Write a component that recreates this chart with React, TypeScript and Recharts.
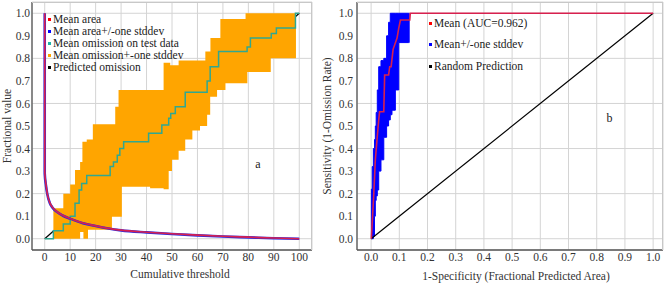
import React from 'react';
import { ComposedChart, Line, Area, XAxis, YAxis, CartesianGrid, ReferenceDot } from 'recharts';

const FONT = "'Liberation Serif', 'Times New Roman', Times, serif";

// ---- tick labels ----
const thresholdTicks = [0, 10, 20, 30, 40, 50, 60, 70, 80, 90, 100];
const fractionTicks = [0, 0.1, 0.2, 0.3, 0.4, 0.5, 0.6, 0.7, 0.8, 0.9, 1.0];
const specificityTicks = [0, 0.1, 0.2, 0.3, 0.4, 0.5, 0.6, 0.7, 0.8, 0.9, 1.0];

// ---- panel a: mean area ----
const meanAreaThreshold = [0, 0, 0.5, 1, 2, 3, 5, 7, 10, 15, 20, 25, 30, 40, 50, 60, 70, 80, 90, 100];
const meanAreaValue = [1.0, 0.3, 0.24, 0.2, 0.16, 0.14, 0.118, 0.104, 0.09, 0.07, 0.057, 0.046, 0.038, 0.029, 0.022, 0.016, 0.011, 0.007, 0.003, 0];
const areaStddevValue = [1.0, 0.29, 0.235, 0.198, 0.158, 0.139, 0.117, 0.103, 0.089, 0.069, 0.056, 0.045, 0.037, 0.028, 0.021, 0.015, 0.01, 0.006, 0.002, 0];

// ---- panel a: omission band (mean +- one stddev) ----
const bandThreshold = [3.4, 7.3, 10, 11.9, 13.9, 14.8, 15.2, 16.5, 17, 18.9, 26.4, 27.7, 29, 30.3, 41.4, 46.7, 48.7, 49.3, 50, 52.6, 55.2, 58, 61, 63.1, 63.8, 65, 65.1, 67.7, 69, 71, 78.9, 79.6, 88.8, 98.7, 99.2];
const bandLow = [0, 0, 0, 0, 0.03, 0.03, 0, 0, 0.04, 0.04, 0.098, 0.098, 0.098, 0.23, 0.224, 0.22, 0.3, 0.3, 0.35, 0.39, 0.44, 0.48, 0.5, 0.5, 0.55, 0.63, 0.63, 0.66, 0.66, 0.69, 0.69, 0.74, 0.8, 1.0, 1.0];
const bandHigh = [0.135, 0.2, 0.24, 0.305, 0.34, 0.43, 0.43, 0.44, 0.44, 0.508, 0.508, 0.585, 0.66, 0.66, 0.66, 0.78, 0.78, 0.77, 0.77, 0.79, 0.79, 0.79, 0.79, 0.83, 0.83, 0.83, 0.89, 0.89, 0.975, 0.975, 1.0, 1.0, 1.0, 1.0, 1.0];

// ---- panel a: mean omission on test data ----
const testThreshold = [0, 3.4, 7.3, 10, 11.9, 13.5, 14.5, 16.5, 25.7, 27, 28.5, 29.5, 31, 40.8, 46, 48.7, 49.5, 51.3, 55.2, 63.8, 65, 68.3, 79.5, 80.8, 89, 91, 98.5, 100];
const testOmission = [0, 0.035, 0.065, 0.1, 0.157, 0.216, 0.245, 0.28, 0.32, 0.34, 0.37, 0.4, 0.43, 0.468, 0.504, 0.534, 0.556, 0.585, 0.65, 0.7, 0.763, 0.83, 0.85, 0.89, 0.91, 0.935, 1.0, 1.0];

// ---- panel a: predicted omission ----
const predictedThreshold = [0, 100];
const predictedOmission = [0, 1];

// ---- panel b: ROC mean ----
const rocMeanFpr = [0, 0.001, 0.009, 0.015, 0.021, 0.027, 0.03, 0.045, 0.048, 0.062, 0.066, 0.071, 0.078, 0.092, 0.098, 0.104, 0.137, 0.139, 1.0];
const rocMeanTpr = [0, 0.006, 0.186, 0.35, 0.44, 0.527, 0.563, 0.563, 0.726, 0.726, 0.763, 0.763, 0.84, 0.89, 0.934, 0.97, 0.97, 1.0, 1.0];

// ---- panel b: ROC mean +/- one stddev ----
const rocBandFpr = [0, 0.001, 0.004, 0.008, 0.012, 0.015, 0.018, 0.022, 0.027, 0.035, 0.045, 0.055, 0.062, 0.068, 0.074, 0.086, 0.098, 0.133, 0.135];
const rocBandLow = [0, 0, 0, 0.01, 0.1, 0.17, 0.19, 0.216, 0.3, 0.35, 0.45, 0.5, 0.527, 0.55, 0.57, 0.66, 0.87, 0.87, 1.0];
const rocBandHigh = [0, 0.22, 0.32, 0.4, 0.44, 0.5, 0.56, 0.66, 0.763, 0.79, 0.8, 0.9, 0.96, 1.0, 1.0, 1.0, 1.0, 1.0, 1.0];

// ---- panel b: random prediction ----
const randomFpr = [0, 1];
const randomTpr = [0, 1];

const legendA = [
  { label: 'Mean area', color: '#ff0000' },
  { label: 'Mean area+/-one stddev', color: '#0000ff' },
  { label: 'Mean omission on test data', color: '#20b2aa' },
  { label: 'Mean omission+-one stddev', color: '#ffa500' },
  { label: 'Predicted omission', color: '#000000' },
];
const legendB = [
  { label: 'Mean (AUC=0.962)', color: '#ff0000' },
  { label: 'Mean+/-one stddev', color: '#0000ff' },
  { label: 'Random Prediction', color: '#000000' },
];

const zip = (xs: number[], ys: number[]) => xs.map((x, i) => ({ x, y: ys[i] }));
const zipRange = (xs: number[], lo: number[], hi: number[]) => xs.map((x, i) => ({ x, r: [lo[i], hi[i]] }));

const meanAreaData = zip(meanAreaThreshold, meanAreaValue);
const areaStdData = zip(meanAreaThreshold, areaStddevValue);
const bandData = zipRange(bandThreshold, bandLow, bandHigh);
const testData = zip(testThreshold, testOmission);
const predictedData = zip(predictedThreshold, predictedOmission);
const rocMeanData = zip(rocMeanFpr, rocMeanTpr);
const rocBandData = zipRange(rocBandFpr, rocBandLow, rocBandHigh);
const randomData = zip(randomFpr, randomTpr);

const FS = 11.5;
const tickStyle = { fontFamily: FONT, fontSize: FS, fill: '#333' };
const fmt1 = (v: number) => v.toFixed(1);

function Legend({ items, left, top, step }: { items: { label: string; color: string }[]; left: number; top: number; step: number }) {
  return (
    <div style={{ position: 'absolute', left, top, fontFamily: FONT, fontSize: FS, color: '#222' }}>
      {items.map((it, i) => (
        <div key={i} style={{ position: 'absolute', left: 0, top: i * step - 6, height: 12, lineHeight: '12px', whiteSpace: 'nowrap' }}>
          <span style={{ display: 'inline-block', width: 3, height: 3, background: it.color, verticalAlign: 'middle', marginRight: 2, marginLeft: -2 }} />
          <span style={{ verticalAlign: 'middle' }}>{it.label}</span>
        </div>
      ))}
    </div>
  );
}

function Title({ text, cx, cy, vertical }: { text: string; cx: number; cy: number; vertical?: boolean }) {
  return (
    <div
      style={{
        position: 'absolute',
        left: cx,
        top: cy,
        transform: `translate(-50%, -50%)${vertical ? ' rotate(-90deg)' : ''}`,
        whiteSpace: 'nowrap',
        fontFamily: FONT,
        fontSize: FS,
        lineHeight: '12px',
        color: '#333',
      }}
    >
      {text}
    </div>
  );
}

function ChartA() {
  return (
    <ComposedChart width={330} height={285} margin={{ top: 2, right: 18, bottom: 0, left: 0 }}>
      <CartesianGrid stroke="#d4d4d4" strokeWidth={1} />
      <XAxis
        type="number"
        dataKey="x"
        domain={[-5, 105]}
        ticks={thresholdTicks}
        allowDataOverflow
        height={35}
        tickSize={0}
        tickMargin={3}
        tick={tickStyle}
        axisLine={{ stroke: '#555', strokeWidth: 1.3 }}
      />
      <YAxis
        type="number"
        domain={[-0.05, 1.05]}
        ticks={fractionTicks}
        allowDataOverflow
        width={32}
        tickSize={0}
        tickMargin={2}
        tick={tickStyle}
        tickFormatter={fmt1}
        axisLine={{ stroke: '#555', strokeWidth: 1.3 }}
      />
      <Area data={predictedData} dataKey="y" type="linear" fill="none" stroke="#000" strokeWidth={1.2} isAnimationActive={false} />
      <Area data={bandData} dataKey="r" type="stepAfter" fill="#ffa500" fillOpacity={1} stroke="none" isAnimationActive={false} />
      <Line data={testData} dataKey="y" type="stepAfter" stroke="#30a890" strokeWidth={1.5} dot={false} isAnimationActive={false} />
      <Line data={areaStdData} dataKey="y" type="monotone" stroke="#2a2ae0" strokeWidth={2.6} dot={false} isAnimationActive={false} />
      <Line data={meanAreaData} dataKey="y" type="monotone" stroke="#d8204e" strokeWidth={1.6} dot={false} isAnimationActive={false} />
      <ReferenceDot x={83.8} y={0.331} r={0} fill="none" stroke="none" label={{ value: 'a', position: 'center', fontFamily: FONT, fontSize: 12, fill: '#222' }} />
    </ComposedChart>
  );
}

function ChartB() {
  return (
    <ComposedChart width={351} height={285} margin={{ top: 2, right: 6, bottom: 0, left: 0 }}>
      <CartesianGrid stroke="#d4d4d4" strokeWidth={1} />
      <XAxis
        type="number"
        dataKey="x"
        domain={[-0.05, 1.035]}
        ticks={specificityTicks}
        allowDataOverflow
        height={35}
        tickSize={0}
        tickMargin={3}
        tick={tickStyle}
        tickFormatter={fmt1}
        axisLine={{ stroke: '#555', strokeWidth: 1.3 }}
      />
      <YAxis
        type="number"
        domain={[-0.05, 1.05]}
        ticks={fractionTicks}
        allowDataOverflow
        width={39}
        tickSize={0}
        tickMargin={4}
        tick={tickStyle}
        tickFormatter={fmt1}
        axisLine={{ stroke: '#555', strokeWidth: 1.3 }}
      />
      <Area data={rocBandData} dataKey="r" type="stepAfter" fill="#0000ff" fillOpacity={1} stroke="#0000ff" strokeWidth={1} isAnimationActive={false} />
      <Line data={randomData} dataKey="y" stroke="#000" strokeWidth={1.2} dot={false} isAnimationActive={false} />
      <Line data={rocMeanData} dataKey="y" stroke="#d8204e" strokeWidth={1.6} dot={false} isAnimationActive={false} />
      <ReferenceDot x={0.845} y={0.538} r={0} fill="none" stroke="none" label={{ value: 'b', position: 'center', fontFamily: FONT, fontSize: 12, fill: '#222' }} />
    </ComposedChart>
  );
}

export default function App() {
  return (
    <div style={{ position: 'absolute', left: 0, top: 0, width: 669, height: 285, background: '#fff', overflow: 'hidden' }}>
      <div style={{ position: 'absolute', left: 0, top: 0 }}>
        <ChartA />
      </div>
      <div style={{ position: 'absolute', left: 318, top: 0 }}>
        <ChartB />
      </div>
      <div style={{ position: 'absolute', left: 32, top: 2, width: 280, height: 248, borderTop: '1px solid #c8c8c8', borderRight: '1px solid #c8c8c8', boxSizing: 'border-box', pointerEvents: 'none' }} />
      <div style={{ position: 'absolute', left: 357, top: 2, width: 306, height: 248, borderTop: '1px solid #c8c8c8', borderRight: '1px solid #c8c8c8', boxSizing: 'border-box', pointerEvents: 'none' }} />
      <Legend items={legendA} left={50} top={18.3} step={11.9} />
      <Legend items={legendB} left={431} top={21.7} step={21.7} />
      <Title text="Fractional value" cx={7} cy={126} vertical />
      <Title text="Cumulative threshold" cx={180} cy={274} />
      <Title text="Sensitivity (1-Omission Rate)" cx={327} cy={126} vertical />
      <Title text="1-Specificity (Fractional Predicted Area)" cx={516} cy={276} />
    </div>
  );
}
